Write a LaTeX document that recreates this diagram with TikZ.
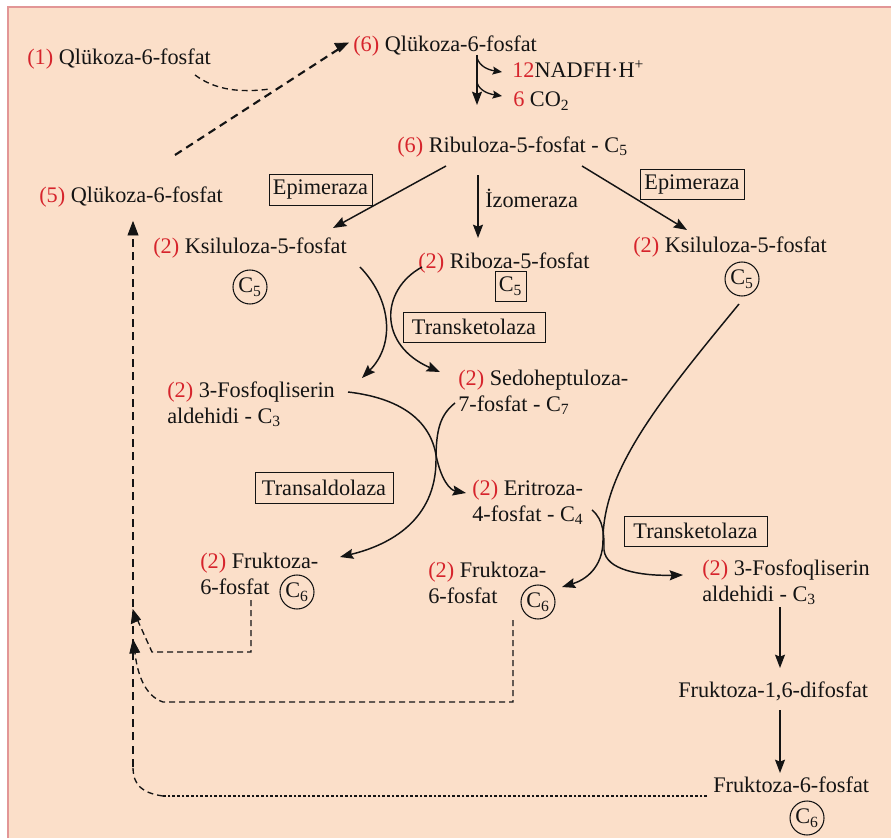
\documentclass[tikz,border=0pt]{standalone}
\usepackage{fontspec}
\setmainfont{Liberation Serif}
\usetikzlibrary{arrows.meta}
\definecolor{bgpeach}{RGB}{251,223,201}
\definecolor{framepink}{RGB}{226,150,150}
\definecolor{numred}{RGB}{214,36,44}
\definecolor{inkc}{RGB}{20,20,20}
\newcommand{\rn}[1]{\textcolor{numred}{(#1)}}
\newcommand{\twol}[2]{\begin{tabular}[t]{@{}l@{}}#1\\#2\end{tabular}}
\begin{document}
\begin{tikzpicture}[x=0.75pt,y=-0.75pt,
  font=\fontsize{16.7}{19.5}\selectfont,
  every node/.style={text=inkc},
  lbl/.style={anchor=base west, inner sep=0pt},
  enz/.style={draw=inkc, line width=0.7pt, inner sep=0pt, align=center},
  cring/.style={circle, draw=inkc, line width=0.8pt, inner sep=0pt, minimum size=25.5pt},
  tip/.style={-{Stealth[length=10pt,width=7.5pt,inset=1.5pt]}},
  stip/.style={-{Stealth[length=7pt,width=6pt,inset=1.2pt]}},
  arr/.style={draw=inkc, line width=1.1pt, tip},
  sarr/.style={draw=inkc, line width=1pt, stip},
  headonly/.style={draw=inkc, fill=inkc, line width=0.6pt, solid},
  thickdash/.style={draw=inkc, line width=1.6pt, dash pattern=on 6pt off 4pt},
  thindash/.style={draw=inkc, line width=1pt, dash pattern=on 4.5pt off 3pt},
  dotline/.style={draw=inkc, line width=0.8pt, dash pattern=on 2pt off 1.5pt}
]
\useasboundingbox (0,0) rectangle (891,838);
\fill[bgpeach] (8,7) rectangle (891,838);
\draw[framepink, line width=1.2pt] (8,838) -- (8,7) -- (891,7);

% nodes
\node[lbl] (g1) at (27,65) {\rn{1} Qlükoza-6-fosfat};
\node[lbl] (g6) at (353,52) {\rn{6} Qlükoza-6-fosfat};
\node[lbl] (nadph) at (512,78) {\textcolor{numred}{12}NADFH·H\textsuperscript{+}};
\node[lbl] (co2) at (513,107) {\textcolor{numred}{6} CO\textsubscript{2}};
\node[lbl] (rib) at (397,152) {\rn{6} Ribuloza-5-fosfat - C\textsubscript{5}};
\node[lbl] (g5) at (39,202) {\rn{5} Qlükoza-6-fosfat};
\node[enz, minimum width=77.25pt, minimum height=23.25pt] (epiL) at (320.5,189.5) {Epimeraza};
\node[lbl] (izo) at (485,207) {İzomeraza};
\node[enz, minimum width=78pt, minimum height=22.5pt] (epiR) at (692,184) {Epimeraza};
\node[lbl] (ksilL) at (153,253) {\rn{2} Ksiluloza-5-fosfat};
\node[cring] (c5L) at (250,287) {C\textsubscript{5}};
\node[lbl] (ribz) at (418,268) {\rn{2} Riboza-5-fosfat};
\node[enz, minimum width=23.25pt, minimum height=22.5pt] (c5B) at (510.5,286) {C\textsubscript{5}};
\node[lbl] (ksilR) at (633,252) {\rn{2} Ksiluloza-5-fosfat};
\node[cring] (c5R) at (742,279) {C\textsubscript{5}};
\node[enz, minimum width=106.5pt, minimum height=22.5pt] (tk1) at (474,327) {Transketolaza};
\node[lbl] (fos1) at (167,397) {\twol{\rn{2} 3-Fosfoqliserin}{aldehidi - C\textsubscript{3}}};
\node[lbl] (sedo) at (458,385) {\twol{\rn{2} Sedoheptuloza-}{7-fosfat - C\textsubscript{7}}};
\node[enz, minimum width=103.5pt, minimum height=23.25pt] (tald) at (324,487.5) {Transaldolaza};
\node[lbl] (eri) at (472,495) {\twol{\rn{2} Eritroza-}{4-fosfat - C\textsubscript{4}}};
\node[enz, minimum width=107.25pt, minimum height=22.5pt] (tk2) at (695.5,531) {Transketolaza};
\node[lbl] (fruL) at (200,568) {\twol{\rn{2} Fruktoza-}{6-fosfat}};
\node[cring] (c6L) at (297,592) {C\textsubscript{6}};
\node[lbl] (fruM) at (428,577) {\twol{\rn{2} Fruktoza-}{6-fosfat}};
\node[cring] (c6M) at (538,602) {C\textsubscript{6}};
\node[lbl] (fos2) at (702,575) {\twol{\rn{2} 3-Fosfoqliserin}{aldehidi - C\textsubscript{3}}};
\node[lbl] (fdp) at (678,697) {Fruktoza-1,6-difosfat};
\node[lbl] (f6p) at (713,792) {Fruktoza-6-fosfat};
\node[cring] (c6B) at (807,818) {C\textsubscript{6}};

% coordinates for connector ends
\coordinate (g1o) at (195,75);
\coordinate (mj) at (270,89);
\coordinate (g5o) at (175,155);
\coordinate (g6i) at (348,43);
\coordinate (g6o) at (477,55);
\coordinate (g6d) at (477,105);
\coordinate (b1) at (477,58);
\coordinate (b1e) at (502,72);
\coordinate (b2) at (477,83);
\coordinate (b2e) at (502,96);
\coordinate (ribL) at (446,166);
\coordinate (ksLi) at (333,228);
\coordinate (ribM) at (478,175);
\coordinate (rbzi) at (478,238);
\coordinate (ribR) at (582,166);
\coordinate (ksRi) at (687,230);
\coordinate (ksLo) at (360,267);
\coordinate (fos1i) at (362,378);
\coordinate (rbzo) at (422,267);
\coordinate (sedoi) at (440,372);
\coordinate (fos1o) at (348,392);
\coordinate (erii) at (466,493);
\coordinate (sedoo) at (455,403);
\coordinate (fruLi) at (340,557);
\coordinate (c5Ro) at (739,304);
\coordinate (fruMi) at (562,587);
\coordinate (erio) at (592,510);
\coordinate (fos2i) at (683,575);
\coordinate (fos2o) at (780,607);
\coordinate (fdpi) at (780,668);
\coordinate (fdpo) at (780,710);
\coordinate (f6pi) at (780,773);
\coordinate (g5i) at (133,222);
\coordinate (rt1) at (133,767);
\coordinate (rt1b) at (163,796);
\coordinate (f6po) at (707,796);
\coordinate (fruMo) at (513,620);
\coordinate (rt2) at (133,640);
\coordinate (fruLo) at (251,600);
\coordinate (rt3) at (133,610);

% top part
\draw[thindash] (g1o) .. controls (215,90) and (240,93) .. (mj);
\draw[thickdash] (g5o) -- (338,49.5);
\filldraw[headonly] (g6i) -- (334.6,43.4) -- (339.6,51.8) -- cycle;
\draw[arr] (g6o) -- (g6d);
\draw[sarr] (b1) .. controls (480,67) and (489,70) .. (b1e);
\draw[sarr] (b2) .. controls (480,91) and (489,94) .. (b2e);
\draw[arr] (ribL) -- (ksLi);
\draw[arr] (ribM) -- (rbzi);
\draw[arr] (ribR) -- (ksRi);

% transketolaza 1
\draw[arr] (ksLo) .. controls (392,300) and (395,345) .. (fos1i);
\draw[arr] (rbzo) .. controls (380,290) and (378,345) .. (sedoi);

% transaldolaza
\draw[arr] (fos1o) .. controls (400,398) and (430,420) .. (436,455) .. controls (441,480) and (450,490) .. (erii);
\draw[arr] (sedoo) .. controls (440,415) and (436,430) .. (436,460) .. controls (436,520) and (390,545) .. (fruLi);

% transketolaza 2
\draw[arr] (c5Ro) .. controls (660,400) and (603,470) .. (603,540) .. controls (603,568) and (585,580) .. (fruMi);
\draw[arr] (erio) .. controls (604,520) and (604,535) .. (604,550) .. controls (606,570) and (640,576) .. (fos2i);

% right column
\draw[arr] (fos2o) -- (fdpi);
\draw[arr] (fdpo) -- (f6pi);

% return lines
\draw[dotline] (f6po) -- (rt1b);
\draw[thindash] (rt1b) .. controls (142,793) and (133,785) .. (rt1);
\draw[thickdash] (rt1) -- (133,232);
\filldraw[headonly] (g5i) -- (128,235) -- (138,235) -- cycle;
\draw[thindash] (fruMo) -- (513,702) -- (163,702) .. controls (145,696) and (137,674) .. (134.8,651);
\filldraw[headonly] (rt2) -- (129.8,653.3) -- (139.6,652.2) -- cycle;
\draw[thindash] (fruLo) -- (251,652) -- (152,652) -- (137.5,620);
\filldraw[headonly] (rt3) -- (131.3,623.6) -- (140.4,619.4) -- cycle;
\end{tikzpicture}
\end{document}
